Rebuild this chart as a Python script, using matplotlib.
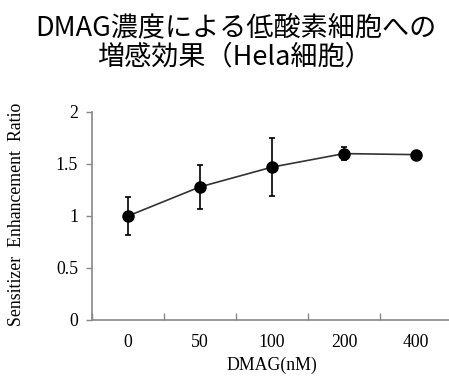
import matplotlib
matplotlib.use("Agg")
import matplotlib.pyplot as plt

categories = ["0", "50", "100", "200", "400"]
ratio = [1.00, 1.28, 1.47, 1.60, 1.59]
err = [0.185, 0.21, 0.28, 0.065, 0.0]
title_lines = ["DMAG濃度による低酸素細胞への", "増感効果（Hela細胞）"]

W, H = 449, 381
fig = plt.figure(figsize=(W / 100, H / 100), dpi=100)
ax = fig.add_axes([92 / W, 1 - 320 / H, 360 / W, 208 / H])

x = list(range(len(categories)))
ax.errorbar(x, ratio, yerr=err, fmt="o-", color="#333333", ms=8, lw=1.2,
            ecolor="black", elinewidth=1.2, capsize=2.5, capthick=1.2,
            markeredgecolor="black", markerfacecolor="black")

ax.set_xlim(-0.5, len(categories) - 0.5)
ax.set_ylim(0, 2)
ax.set_yticks([0, 0.5, 1, 1.5, 2])
ax.set_yticklabels(["0", "0.5", "1", "1.5", "2"])
ax.set_xticks([i - 0.5 for i in range(len(categories) + 1)])
ax.set_xticklabels([])
ax.set_xticks(x, minor=True)
ax.set_xticklabels(categories, minor=True)
ax.tick_params(axis="x", which="minor", length=0, pad=10)
ax.tick_params(axis="x", which="major", length=5, color="#888888", width=1, direction="in")
ax.tick_params(axis="y", length=4, color="#888888", width=1, direction="out", pad=6)

serif = "Liberation Serif"
for lab in ax.get_xticklabels(minor=True) + ax.get_yticklabels():
    lab.set_fontfamily(serif)
    lab.set_fontsize(12.8)

for s in ["top", "right"]:
    ax.spines[s].set_visible(False)
for s in ["left", "bottom"]:
    ax.spines[s].set_color("#888888")
    ax.spines[s].set_linewidth(1.2)

ax.set_xlabel("DMAG(nM)", fontfamily=serif, fontsize=12.8, labelpad=4)
fig.text(17 / W, 1 - 214 / H, "Sensitizer  Enhancement  Ratio", rotation=90,
         ha="center", va="center", fontfamily=serif, fontsize=12.8)

tf = ["Noto Sans CJK JP", "DejaVu Sans"]
fig.text(236 / W, 1 - 28 / H, title_lines[0], ha="center", va="center",
         fontfamily=tf, fontsize=19.5)
fig.text(234 / W, 1 - 57 / H, title_lines[1], ha="center", va="center",
         fontfamily=tf, fontsize=19.5)

fig.savefig("out.png", dpi=100)
